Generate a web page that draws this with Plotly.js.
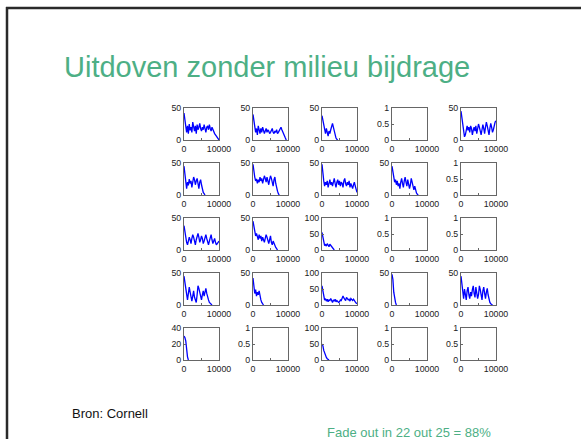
<!DOCTYPE html>
<html>
<head>
<meta charset="utf-8">
<script src="https://cdn.plot.ly/plotly-3.0.1.min.js"></script>
<style>html,body{margin:0;padding:0;background:#fff;}#chart{width:581px;height:439px;}</style>
</head>
<body>
<div id="chart"></div>
<script>
// sample times (generation steps)
const t = [0,250,500,750,1000,1250,1500,1750,2000,2250,2500,2750,3000,3250,3500,3750,4000,4250,4500,4750,5000,5250,5500,5750,6000,6250,6500,6750,7000,7250,7500,7750,8000,8250,8500,8750,9000,9250,9500,9750,10000];

// x tick labels
const xTickVals = [0, 5000, 10000];
const xTickText = ['0', '', '10000'];

// row 1
const r1c1 = [42,30,18,12,22,10,25,15,20,12,28,18,14,22,10,24,16,20,26,18,14,20,16,24,18,12,20,22,16,24,18,14,20,16,12,10,8,6,4,2,0];
const r1c2 = [40,28,20,12,18,8,22,14,10,18,12,20,16,10,14,18,12,16,14,10,12,14,18,12,10,14,12,16,10,12,14,18,20,16,12,10,6,3,0];
const r1c3 = [38,32,24,16,10,18,12,6,14,10,16,24,26,20,12,6,3,1,0];
const r1c4 = [];
const r1c5 = [45,35,22,10,5,8,18,22,15,20,12,22,18,8,15,20,14,22,10,18,25,20,14,8,16,24,18,10,20,28,22,12,8,18,26,20,12,16,24,28,30];
// row 2
const r2c1 = [45,30,18,10,20,15,25,18,22,12,20,28,24,16,22,26,18,10,20,24,16,8,4,2,0];
const r2c2 = [48,35,28,22,25,18,24,20,28,22,26,18,24,30,26,20,28,22,16,24,30,26,20,14,24,28,18,10,6,2,0];
const r2c3 = [48,30,22,14,20,16,22,12,18,24,16,20,14,22,26,18,12,20,24,16,22,14,20,18,12,22,26,18,14,20,16,22,12,18,14,10,16,20,14,8,4];
const r2c4 = [45,35,28,20,24,16,22,14,18,10,20,26,18,12,22,28,20,14,24,18,10,16,26,20,12,8,14,6,3,1,0];
const r2c5 = [];
// row 3
const r3c1 = [38,26,18,12,8,14,20,16,10,18,24,20,14,8,16,22,26,20,12,16,22,18,10,14,20,24,18,12,8,14,20,24,16,10,14,18,12,8,10,12,14];
const r3c2 = [45,38,28,22,26,20,16,24,18,22,14,20,16,12,18,24,20,14,10,16,22,12,8,14,10,6,4,2,0];
const r3c3 = [55,40,22,14,18,12,20,16,10,18,14,8,4,2,0];
const r3c4 = [];
const r3c5 = [];
// row 4
const r4c1 = [45,35,22,12,8,18,28,20,10,6,14,22,12,6,4,16,30,26,18,12,8,16,22,14,20,26,18,10,8,4,2,1,0];
const r4c2 = [42,30,18,24,14,20,16,22,12,8,4,2,0];
const r4c3 = [60,40,25,15,20,12,18,10,16,14,20,12,8,16,12,18,10,14,12,8,10,16,14,20,28,22,18,14,24,20,16,18,12,20,16,14,18,12,10,6,4];
const r4c4 = [48,40,20,10,4,0];
const r4c5 = [45,35,20,10,25,15,8,22,28,16,10,20,14,24,30,18,12,28,20,10,16,30,24,12,8,22,28,18,10,20,26,16,8,4,2,1,0];
// row 5
const r5c1 = [30,28,24,12,4,0];
const r5c2 = [];
const r5c3 = [50,45,30,20,12,8,4,2,0];
const r5c4 = [];
const r5c5 = [];

const series = [r1c1,r1c2,r1c3,r1c4,r1c5, r2c1,r2c2,r2c3,r2c4,r2c5, r3c1,r3c2,r3c3,r3c4,r3c5, r4c1,r4c2,r4c3,r4c4,r4c5, r5c1,r5c2,r5c3,r5c4,r5c5];

// y tick values per panel
const yTicks = [
  [0,50],[0,50],[0,50],[0,0.5,1],[0,50],
  [0,50],[0,50],[0,50],[0,50],[0,0.5,1],
  [0,50],[0,50],[0,50,100],[0,0.5,1],[0,0.5,1],
  [0,50],[0,50],[0,50,100],[0,50],[0,50],
  [0,20,40],[0,0.5,1],[0,50,100],[0,0.5,1],[0,0.5,1]
];

const W = 581, H = 439;
const colLeft = [184, 253, 322, 392, 461];
const rowTop = [108, 163, 218, 273, 328];
const boxW = 35, boxH = 32;

const traces = [];
const layout = {
  width: W, height: H,
  margin: {l:0, r:0, t:0, b:0},
  paper_bgcolor: '#fff', plot_bgcolor: '#fff',
  showlegend: false,
  font: {family: 'Liberation Sans, Arial, sans-serif', color: '#222', size: 8.5},
  annotations: [], shapes: []
};

for (let i = 0; i < 25; i++) {
  const r = Math.floor(i / 5), c = i % 5;
  const n = i + 1;
  const xa = 'x' + (n > 1 ? n : ''), ya = 'y' + (n > 1 ? n : '');
  const ys = series[i];
  traces.push({
    x: t.slice(0, ys.length), y: ys, xaxis: xa, yaxis: ya,
    type: 'scatter', mode: 'lines',
    line: {color: '#0000ff', width: 1.3}, hoverinfo: 'skip'
  });
  const yt = yTicks[i];
  const axCommon = {
    showline: true, mirror: true, linecolor: '#666', linewidth: 1,
    ticks: 'inside', ticklen: 2, tickcolor: '#666',
    showgrid: false, zeroline: false, fixedrange: true, automargin: false,
    tickfont: {size: 8.8, color: '#222', family: 'Liberation Sans, Arial, sans-serif'}
  };
  layout['xaxis' + (n > 1 ? n : '')] = Object.assign({}, axCommon, {
    domain: [colLeft[c] / W, (colLeft[c] + boxW) / W],
    range: [0, 10000], anchor: ya,
    tickmode: 'array', tickvals: xTickVals, ticktext: xTickText
  });
  layout['yaxis' + (n > 1 ? n : '')] = Object.assign({}, axCommon, {
    domain: [1 - (rowTop[r] + boxH) / H, 1 - rowTop[r] / H],
    range: [yt[0], yt[yt.length - 1]], anchor: xa,
    tickmode: 'array', tickvals: yt, ticktext: yt.map(String)
  });
}

layout.annotations.push({
  xref: 'paper', yref: 'paper', x: 266.5 / W, y: 1 - 67 / H,
  xanchor: 'center', yanchor: 'middle', showarrow: false,
  text: 'Uitdoven zonder milieu bijdrage',
  font: {family: 'Liberation Sans, Arial, sans-serif', size: 29, color: '#4daf85'}
});
layout.annotations.push({
  xref: 'paper', yref: 'paper', x: 70 / W, y: 1 - 413 / H,
  xanchor: 'left', yanchor: 'middle', showarrow: false,
  text: 'Bron: Cornell',
  font: {family: 'Liberation Sans, Arial, sans-serif', size: 13, color: '#111'}
});
layout.annotations.push({
  xref: 'paper', yref: 'paper', x: 493 / W, y: 1 - 432 / H,
  xanchor: 'right', yanchor: 'middle', showarrow: false,
  text: 'Fade out in 22 out 25 = 88%',
  font: {family: 'Liberation Sans, Arial, sans-serif', size: 13, color: '#4daf85'}
});

// slide frame
layout.shapes.push({type: 'line', xref: 'paper', yref: 'paper', x0: 6 / W, x1: 1, y0: 1 - 8 / H, y1: 1 - 8 / H, line: {color: '#2a2a2a', width: 2.5}});
layout.shapes.push({type: 'line', xref: 'paper', yref: 'paper', x0: 7 / W, x1: 7 / W, y0: 1 - 7 / H, y1: 0, line: {color: '#2a2a2a', width: 2.5}});

Plotly.newPlot('chart', traces, layout, {staticPlot: true, displayModeBar: false});
</script>
</body>
</html>
